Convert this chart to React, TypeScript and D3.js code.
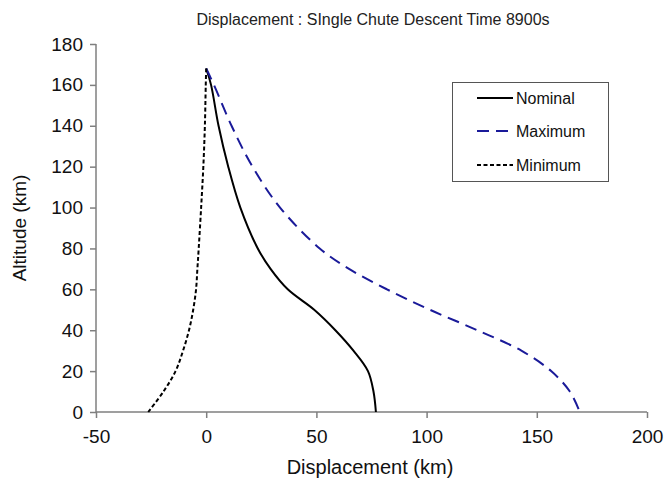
import React, { useEffect, useRef } from 'react';
import * as d3 from 'd3';

// altitude levels (km) shared by all three curves
const altitudes = [168, 160, 140, 120, 100, 80, 70, 60, 50, 40, 30, 20, 10, 0];

// displacement (km) at each altitude
const nominal = [0, 2.2, 5.6, 10, 15.5, 23.4, 29.2, 37, 49, 58.6, 66.8, 73.4, 75.9, 77];
const maximum = [0, 3.5, 11.5, 21, 33.5, 51.5, 64.8, 82, 101.5, 123, 143, 156.5, 165, 169.5];
const minimum = [0, -0.2, -0.6, -1.3, -2.3, -3.4, -4, -4.6, -5.9, -7.8, -10.5, -13.9, -19.4, -26.3];

const xTicks = [-50, 0, 50, 100, 150, 200];
const yTicks = [0, 20, 40, 60, 80, 100, 120, 140, 160, 180];

const seriesNames = ['Nominal', 'Maximum', 'Minimum'];

const App = () => {
    const svgRef = useRef<SVGSVGElement>(null);

    useEffect(() => {
        const svg = d3.select(svgRef.current);
        svg.selectAll('*').remove();

        const width = 667;
        const height = 479;
        const font = '"Liberation Sans", Arial, sans-serif';
        const axisColor = '#7f7f7f';

        svg.attr('width', width).attr('height', height);

        // Scales
        const xScale = d3.scaleLinear().domain([-50, 200]).range([96, 647]);
        const yScale = d3.scaleLinear().domain([0, 180]).range([412, 44]);

        // Title
        svg.append('text')
            .attr('x', 373)
            .attr('y', 25)
            .attr('text-anchor', 'middle')
            .style('font-family', font)
            .style('font-size', '16px')
            .style('fill', '#222')
            .text('Displacement : SIngle Chute Descent Time 8900s');

        // Axes
        const xAxis = d3.axisBottom(xScale).tickValues(xTicks).tickSize(6).tickPadding(0).tickFormat(d => String(d));
        const yAxis = d3.axisLeft(yScale).tickValues(yTicks).tickSize(6).tickPadding(7).tickFormat(d => String(d));

        const gx = svg.append('g')
            .attr('transform', `translate(0,${yScale(0)})`)
            .call(xAxis);
        const gy = svg.append('g')
            .attr('transform', `translate(${xScale(-50)},0)`)
            .call(yAxis);

        [gx, gy].forEach(g => {
            g.select('.domain').attr('stroke', axisColor).attr('stroke-width', 1.5);
            g.selectAll('.tick line').attr('stroke', axisColor).attr('stroke-width', 1.5);
            g.selectAll('.tick text')
                .attr('fill', '#111')
                .style('font-family', font)
                .style('font-size', '19px');
        });
        // x tick labels: baseline ~31px below the axis
        gx.selectAll('.tick text').attr('y', 31).attr('dy', null);
        // plain domain lines without outer stubs
        gx.select('.domain').attr('d', `M${xScale(-50)},0H${xScale(200)}`);
        gy.select('.domain').attr('d', `M0,${yScale(0)}V${yScale(180)}`);

        // Axis labels
        svg.append('text')
            .attr('x', 370)
            .attr('y', 474)
            .attr('text-anchor', 'middle')
            .style('font-family', font)
            .style('font-size', '20px')
            .style('fill', '#111')
            .text('Displacement (km)');

        svg.append('text')
            .attr('transform', `translate(26,${(yScale(0) + yScale(180)) / 2}) rotate(-90)`)
            .attr('text-anchor', 'middle')
            .style('font-family', font)
            .style('font-size', '19px')
            .style('fill', '#111')
            .text('Altitude (km)');

        // Curves
        const styles = [
            { values: nominal, color: '#000000', dash: null, width: 2 },
            { values: maximum, color: '#1a1a99', dash: '12,7', width: 2 },
            { values: minimum, color: '#000000', dash: '4,2.5', width: 2 },
        ];

        const line = d3.line<[number, number]>()
            .x(d => xScale(d[0]))
            .y(d => yScale(d[1]))
            .curve(d3.curveCatmullRom.alpha(0.5));

        styles.forEach(s => {
            const pts: [number, number][] = altitudes.map((a, i) => [s.values[i], a]);
            svg.append('path')
                .datum(pts)
                .attr('d', line)
                .attr('fill', 'none')
                .attr('stroke', s.color)
                .attr('stroke-width', s.width)
                .attr('stroke-dasharray', s.dash);
        });

        // Legend
        const legend = svg.append('g');
        legend.append('rect')
            .attr('x', 452.5)
            .attr('y', 82.5)
            .attr('width', 156)
            .attr('height', 99)
            .attr('fill', 'white')
            .attr('stroke', '#555')
            .attr('stroke-width', 1);

        const legendY = [98, 131, 165];
        seriesNames.forEach((name, i) => {
            legend.append('line')
                .attr('x1', 477)
                .attr('x2', 513)
                .attr('y1', legendY[i])
                .attr('y2', legendY[i])
                .attr('stroke', styles[i].color)
                .attr('stroke-width', 2)
                .attr('stroke-dasharray', styles[i].dash);
            legend.append('text')
                .attr('x', 516)
                .attr('y', legendY[i])
                .attr('dy', '0.36em')
                .style('font-family', font)
                .style('font-size', '16px')
                .style('fill', '#111')
                .text(name);
        });
    }, []);

    return (
        <svg ref={svgRef} style={{ position: 'absolute', left: 0, top: 0, background: 'white' }}></svg>
    );
};

export default App;
